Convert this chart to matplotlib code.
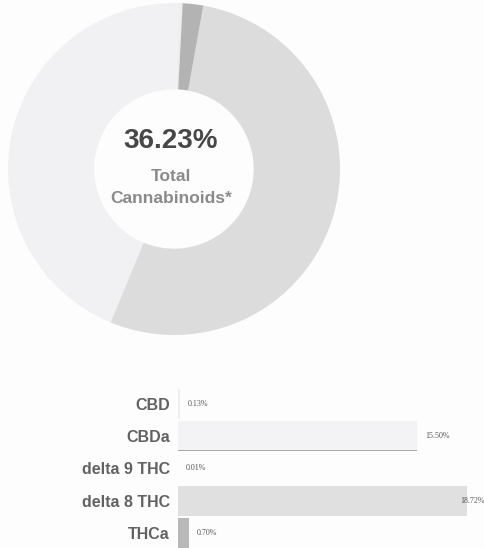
import matplotlib
matplotlib.use("Agg")
import matplotlib.pyplot as plt

categories = ["CBD", "CBDa", "delta 9 THC", "delta 8 THC", "THCa"]
values = [0.13, 15.50, 0.01, 18.72, 0.70]
value_labels = ["0.13%", "15.50%", "0.01%", "18.72%", "0.70%"]
total_label = "36.23%"
center_sub = "Total\nCannabinoids*"

colors = ["#eeeeee", "#f1f1f3", "#e4e4e4", "#dcdcdc", "#b3b3b3"]
bar_colors = ["#eeeeee", "#f3f3f5", "#e4e4e4", "#e0e0e0", "#b8b8b8"]

sans = ["Liberation Sans", "DejaVu Sans"]
serif = ["Liberation Serif", "DejaVu Serif"]

W, H = 485, 548
fig = plt.figure(figsize=(W / 100, H / 100), dpi=100)
fig.patch.set_facecolor("#fdfdfd")

# Donut
cx, cy, r = 174, 169, 166
ax1 = fig.add_axes([(cx - r) / W, (H - cy - r) / H, 2 * r / W, 2 * r / H])
ax1.pie(values, colors=colors, startangle=87, counterclock=True,
        radius=1.0, wedgeprops=dict(width=0.52, edgecolor="none"))
ax1.set_xlim(-1, 1)
ax1.set_ylim(-1, 1)
ax1.set_aspect("equal")
ax1.axis("off")
ax1.text(-0.02, 0.17, total_label, ha="center", va="center", fontsize=20,
         fontweight="bold", color="#474747", family=sans)
ax1.text(-0.02, -0.11, center_sub, ha="center", va="center", fontsize=12.5,
         fontweight="bold", color="#8a8a8a", family=sans, linespacing=1.55)

# Bars
bx0, by_top, row = 178, 388, 32.2
n = len(categories)
xscale = 15.45
ax2 = fig.add_axes([bx0 / W, (H - by_top - n * row) / H, (W - bx0) / W, n * row / H])
xmax = (W - bx0) / xscale
ypos = list(range(n))
ax2.barh(ypos, values, height=0.92, color=bar_colors, edgecolor="none")
# darker baseline under CBDa bar as in the reference
ax2.barh([1.44], [values[1]], height=0.06, color="#a8a8a8", edgecolor="none")
ax2.set_xlim(0, xmax)
ax2.set_ylim(n - 0.5, -0.5)
ax2.set_yticks(ypos)
ax2.set_yticklabels(categories, fontsize=11.5, fontweight="bold", color="#626262",
                    family=sans)
ax2.tick_params(axis="y", length=0, pad=6)
ax2.tick_params(axis="x", length=0, labelbottom=False)
for s in ax2.spines.values():
    s.set_visible(False)
ax2.set_facecolor("none")
for i, (v, lab) in enumerate(zip(values, value_labels)):
    x = v + 0.5
    if x > xmax - 1.5:
        ax2.text(xmax, i, lab, ha="right", va="center", fontsize=5.8,
                 color="#555555", family=serif)
    else:
        ax2.text(x, i, lab, ha="left", va="center", fontsize=5.8,
                 color="#555555", family=serif)

fig.savefig("out.png", dpi=100, facecolor=fig.get_facecolor())
